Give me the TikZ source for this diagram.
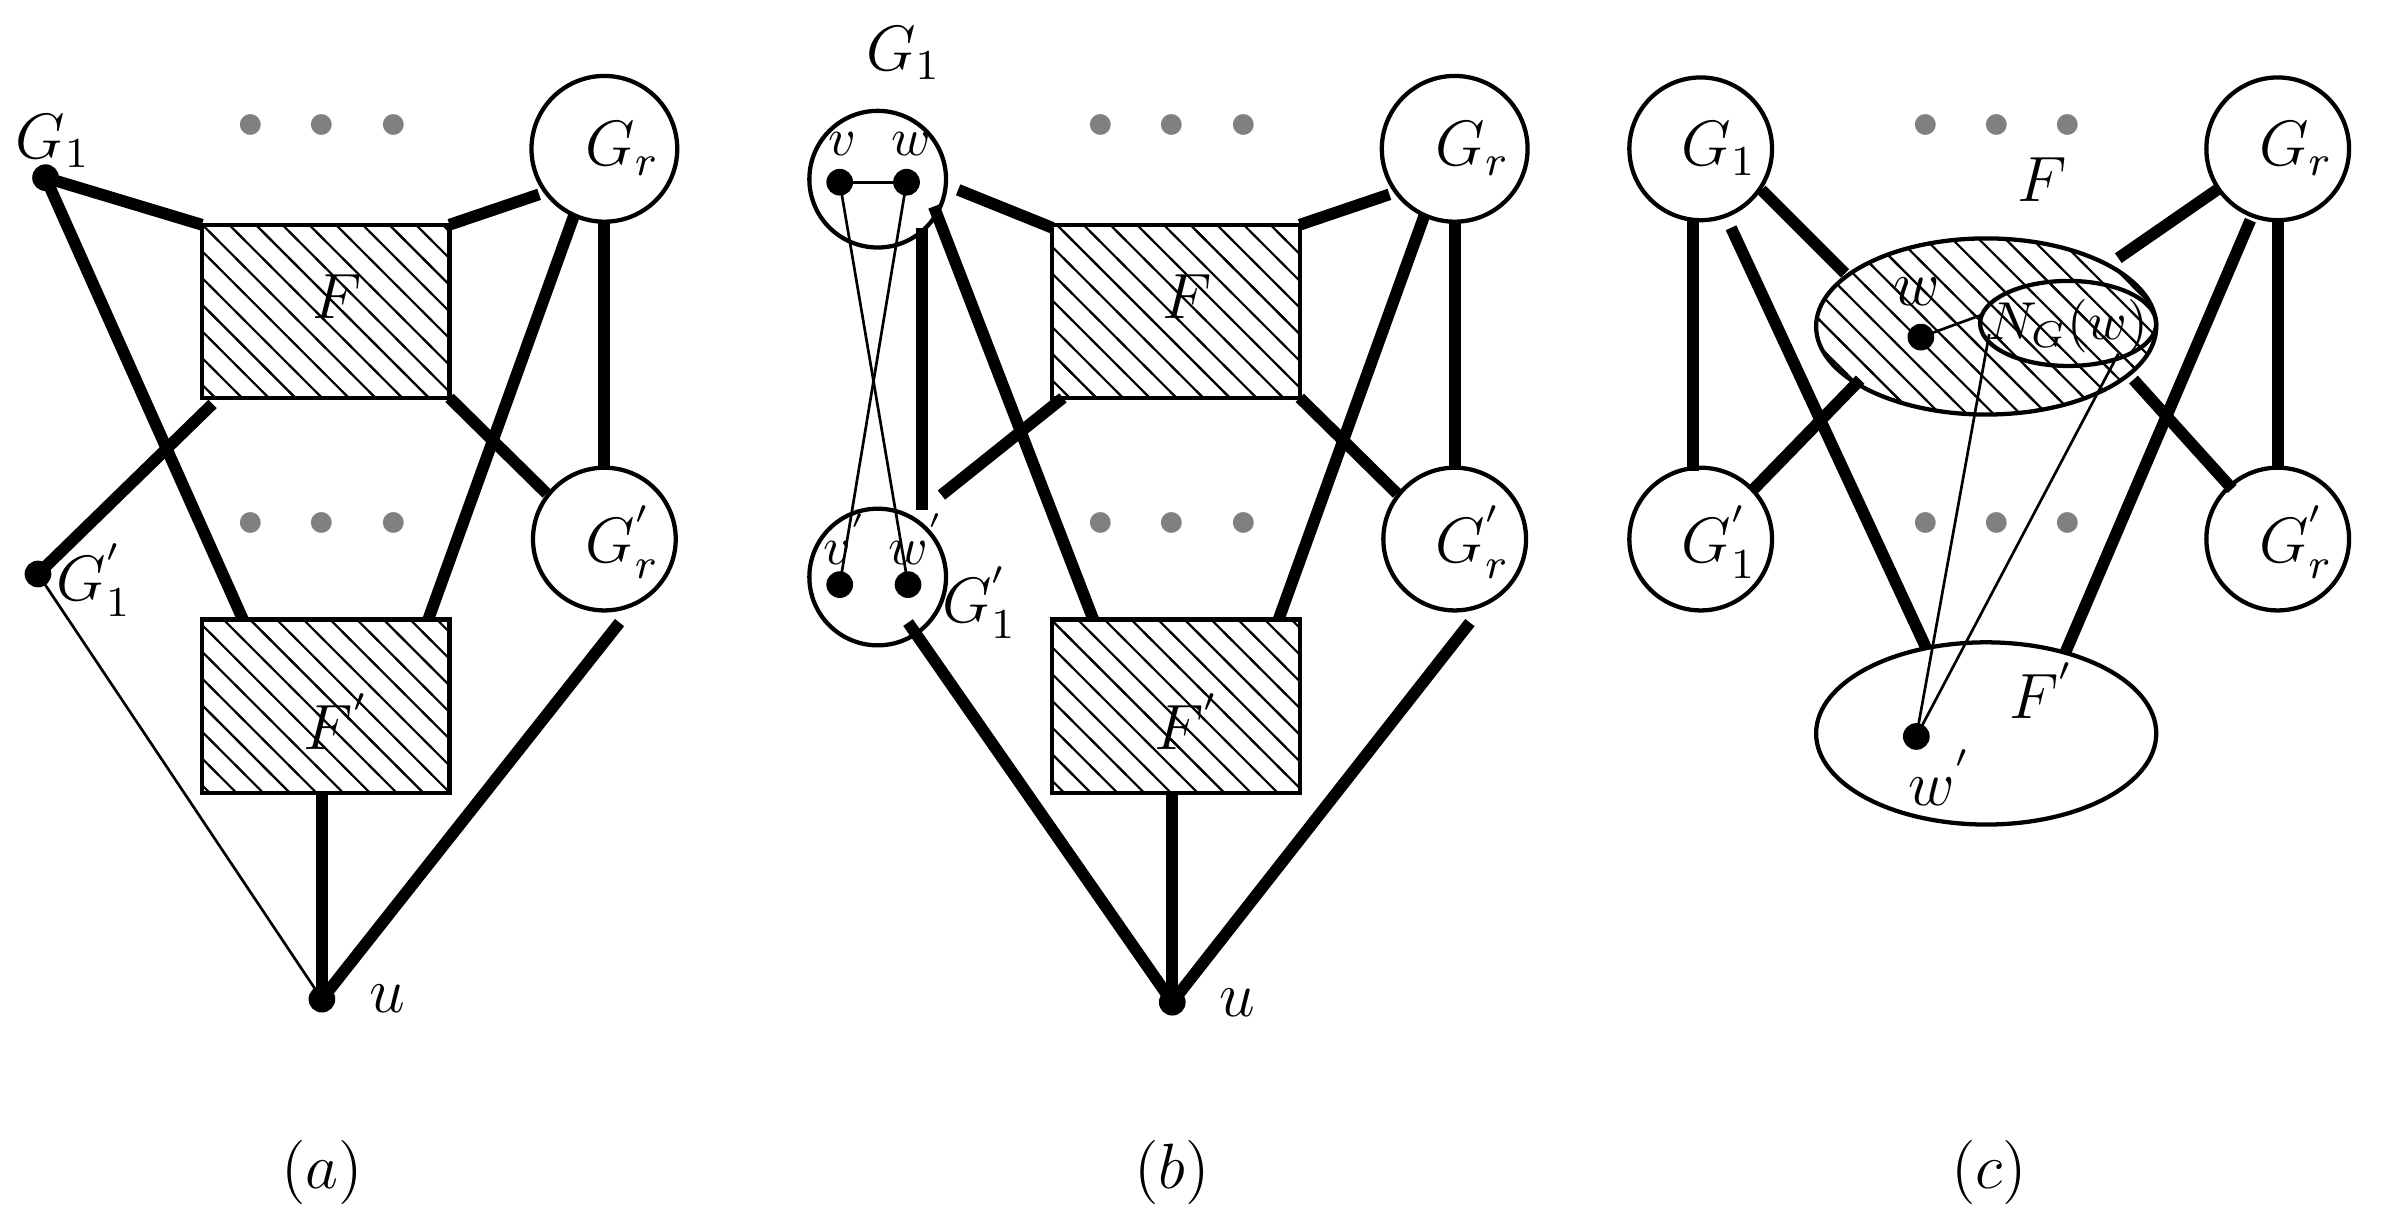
\documentclass[tikz,border=0pt]{standalone}
\usetikzlibrary{patterns.meta}
\tikzdeclarepattern{name=hatch,type=uncolored,bounding box={(-1pt,-1pt) and (6pt,6pt)},tile size={(5pt,5pt)},code={\draw[line width=0.4pt] (-1pt,6pt)--(6pt,-1pt);}}
\begin{document}
\begin{tikzpicture}[x=0.01cm,y=-0.01cm,
  thk/.style={line width=2.2pt},
  thn/.style={line width=0.5pt},
  box/.style={draw,line width=0.8pt,pattern=hatch},
  dot/.style={circle,fill,inner sep=0pt,minimum size=5pt},
  gd/.style={text=gray,font=\Large},
  lab/.style={font=\large}]
\useasboundingbox (0,0) rectangle (1568,806);
% ---------- (a)
\coordinate (aG1) at (30,117);
\node[dot] at (aG1) {};
\node[lab] at (35,93) {$G_1$};
\coordinate (aG1p) at (25,378);
\node[dot] at (aG1p) {};
\node[lab] at (62,382) {$G_1^{'}$};
\draw[box] (133,148) rectangle (296,262);
\node[lab] at (222,195) {$F$};
\draw[box] (133,408) rectangle (296,522);
\node[lab] at (222,475) {$F^{'}$};
\draw[line width=0.8pt] (398,98) circle (48);
\node[lab] at (410,98) {$G_r$};
\draw[line width=0.8pt] (398,355) circle (47);
\node[lab] at (410,357) {$G_r^{'}$};
\node[gd] at (212,85) {\textbullet\,\textbullet\,\textbullet};
\node[gd] at (212,347) {\textbullet\,\textbullet\,\textbullet};
\coordinate (au) at (212,658);
\node[dot] at (au) {};
\node[lab] at (255,658) {$u$};
\draw[thk] (aG1) -- (133,148);
\draw[thk] (aG1) -- (160,408);
\draw[thk] (140,266) -- (aG1p);
\draw[thk] (296,148) -- (355,128);
\draw[thk] (378,142) -- (282,408);
\draw[thk] (398,146) -- (398,308);
\draw[thk] (296,262) -- (360,325);
\draw[thk] (au) -- (212,522);
\draw[thk] (au) -- (408,410);
\draw[thn] (aG1p) -- (au);
% ---------- (b)
\draw[line width=0.8pt] (578,118) circle (45);
\node[lab] at (595,35) {$G_1$};
\draw[line width=0.8pt] (578,380) circle (45);
\node[lab] at (645,397) {$G_1^{'}$};
\coordinate (bv) at (553,120); \coordinate (bw) at (597,120);
\coordinate (bvp) at (553,385); \coordinate (bwp) at (598,385);
\foreach \c in {bv,bw,bvp,bwp} \node[dot] at (\c) {};
\node at (555,95) {$v$}; \node at (600,95) {$w$};
\node at (557,355) {$v^{'}$}; \node at (604,355) {$w^{'}$};
\draw[thn] (bv) -- (bw);
\draw[thn] (bv) -- (bwp);
\draw[thn] (bw) -- (bvp);
\draw[box] (693,148) rectangle (856,262);
\node[lab] at (782,195) {$F$};
\draw[box] (693,408) rectangle (856,522);
\node[lab] at (782,475) {$F^{'}$};
\draw[line width=0.8pt] (958,98) circle (48);
\node[lab] at (970,98) {$G_r$};
\draw[line width=0.8pt] (958,355) circle (47);
\node[lab] at (970,357) {$G_r^{'}$};
\node[gd] at (772,85) {\textbullet\,\textbullet\,\textbullet};
\node[gd] at (772,347) {\textbullet\,\textbullet\,\textbullet};
\coordinate (bu) at (772,660);
\node[dot] at (bu) {};
\node[lab] at (815,660) {$u$};
\draw[thk] (631,125) -- (693,150);
\draw[thk] (607,150) -- (607,336);
\draw[thk] (615,136) -- (720,408);
\draw[thk] (700,262) -- (620,326);
\draw[thk] (598,410) -- (bu);
\draw[thk] (bu) -- (772,522);
\draw[thk] (bu) -- (968,410);
\draw[thk] (856,148) -- (915,128);
\draw[thk] (938,142) -- (842,408);
\draw[thk] (958,146) -- (958,308);
\draw[thk] (856,262) -- (920,325);
% ---------- (c)
\draw[line width=0.8pt] (1120,98) circle (47);
\node[lab] at (1132,98) {$G_1$};
\draw[line width=0.8pt] (1120,355) circle (47);
\node[lab] at (1132,357) {$G_1^{'}$};
\draw[line width=0.8pt] (1500,98) circle (47);
\node[lab] at (1512,98) {$G_r$};
\draw[line width=0.8pt] (1500,355) circle (47);
\node[lab] at (1512,357) {$G_r^{'}$};
\node[gd] at (1315,85) {\textbullet\,\textbullet\,\textbullet};
\node[gd] at (1315,347) {\textbullet\,\textbullet\,\textbullet};
\node[lab] at (1345,118) {$F$};
\draw[thk] (1115,145) -- (1115,310);
\draw[thk] (1160,125) -- (1215,180);
\draw[thk] (1140,150) -- (1270,430);
\draw[thk] (1155,322) -- (1225,250);
\draw[thk] (1460,125) -- (1395,170);
\draw[thk] (1482,145) -- (1360,430);
\draw[thk] (1500,145) -- (1500,308);
\draw[thk] (1405,250) -- (1470,322);
\draw[line width=0.8pt,pattern=hatch] (1308,215) ellipse [x radius=112,y radius=58];
\draw[line width=0.8pt,fill=white] (1308,483) ellipse [x radius=112,y radius=60];
\draw[line width=0.8pt] (1362,213) ellipse [x radius=58,y radius=28];
\node at (1362,215) {$N_G(w)$};
\node[lab] at (1345,455) {$F^{'}$};
\coordinate (cw) at (1265,222);
\coordinate (cwp) at (1262,485);
\node[dot] at (cw) {}; \node[dot] at (cwp) {};
\node[lab] at (1262,192) {$w$};
\node[lab] at (1278,512) {$w^{'}$};
\draw[thn] (cw) -- (1306,207);
\draw[thn] (cwp) -- (1310,220);
\draw[thn] (cwp) -- (1395,233);
% labels
\node[lab] at (212,772) {$(a)$};
\node[lab] at (772,772) {$(b)$};
\node[lab] at (1310,772) {$(c)$};
\end{tikzpicture}
\end{document}
